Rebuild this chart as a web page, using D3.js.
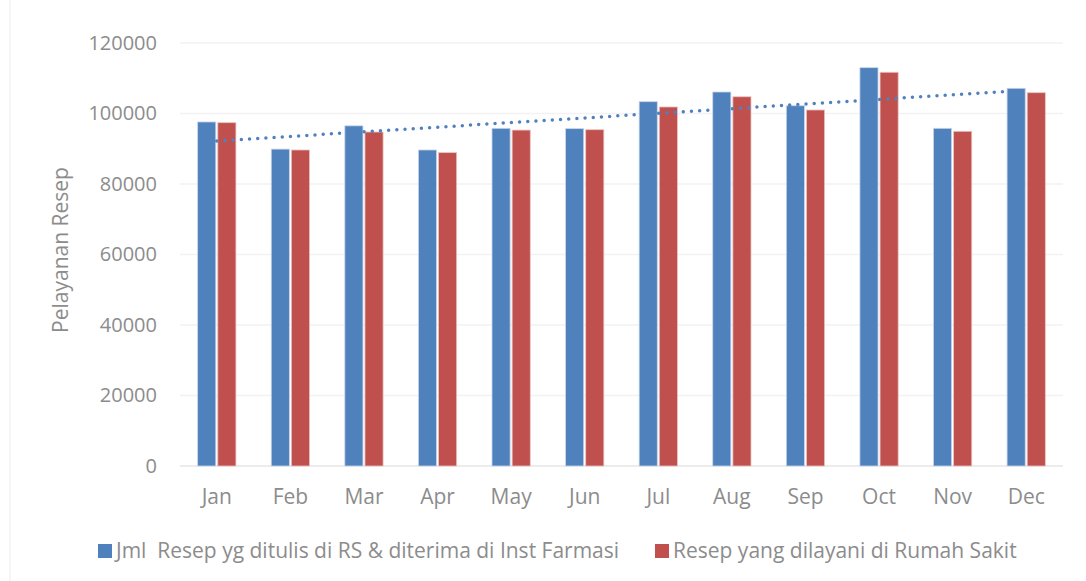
<!DOCTYPE html>
<html><head><meta charset="utf-8">
<script src="https://cdn.jsdelivr.net/npm/d3@7"></script>
<style>
html,body{margin:0;padding:0;background:#fff;}
text{font-family:"Open Sans",sans-serif;fill:#8c8c8c;}
</style></head>
<body><svg id="c" width="1086" height="581"></svg>
<script>
const months = ["Jan","Feb","Mar","Apr","May","Jun","Jul","Aug","Sep","Oct","Nov","Dec"];
const seriesNames = ["Jml  Resep yg ditulis di RS & diterima di Inst Farmasi","Resep yang dilayani di Rumah Sakit"];
const written = [97600, 89900, 96500, 89650, 95800, 95700, 103350, 106100, 102200, 113000, 95800, 107150];
const served  = [97400, 89650, 94750, 88900, 95300, 95400, 101850, 104750, 101000, 111700, 94950, 105900];
const yTicks = [0, 20000, 40000, 60000, 80000, 100000, 120000];
const colors = ["#4F81BD","#C0504D"];

const svg = d3.select("#c");
const pLeft = 180, pRight = 1063, pTop = 43, pBottom = 466;

const x = d3.scaleBand().domain(months).range([pLeft, pRight]).paddingInner(0.48).paddingOuter(0.24);
const xi = d3.scaleBand().domain([0,1]).range([0, x.bandwidth()]).paddingInner(0.1);
const y = d3.scaleLinear().domain([0, 120000]).range([pBottom, pTop]);

// faint outer border
svg.append("line").attr("x1",10).attr("x2",10).attr("y1",0).attr("y2",581).attr("stroke","#f3f3f3").attr("stroke-width",1.5);

// gridlines
svg.append("g").selectAll("line").data(yTicks).join("line")
  .attr("x1", pLeft).attr("x2", pRight)
  .attr("y1", d => y(d)).attr("y2", d => y(d))
  .attr("stroke", (d) => d === 0 ? "#e6e6e6" : "#f2f2f2").attr("stroke-width", 1.5);

// y axis labels
const yAxis = d3.axisLeft(y).tickValues(yTicks).tickSize(0).tickPadding(0).tickFormat(d3.format("d"));
const gy = svg.append("g").attr("transform", `translate(157,0)`).call(yAxis);
gy.select(".domain").remove();
gy.selectAll("text").style("font-size","20px").attr("fill","#8c8c8c").style("font-family","'Open Sans',sans-serif");

// x axis labels
const xAxis = d3.axisBottom(x).tickSize(0).tickPadding(0);
const gx = svg.append("g").attr("transform", `translate(0,489)`).call(xAxis);
gx.select(".domain").remove();
gx.selectAll("text").style("font-size","21px").attr("fill","#8c8c8c").style("font-family","'Open Sans',sans-serif");

// bars
const data = months.map((m,i) => ({m, v:[written[i], served[i]]}));
const groups = svg.append("g").selectAll("g").data(data).join("g")
  .attr("transform", d => `translate(${x(d.m)},0)`);
groups.selectAll("rect").data(d => d.v.map((v,k)=>({v,k}))).join("rect")
  .attr("x", d => xi(d.k)).attr("width", xi.bandwidth())
  .attr("y", d => y(d.v)).attr("height", d => pBottom - y(d.v))
  .attr("fill", d => colors[d.k])
  .attr("stroke", d => d.k === 0 ? "#c9d6ea" : "#e8c4c3").attr("stroke-width", 0.8);

// linear trendline on first series
const n = written.length;
const mx = (n-1)/2, my = d3.mean(written);
let sxy = 0, sxx = 0;
written.forEach((v,i)=>{ sxy += (i-mx)*(v-my); sxx += (i-mx)*(i-mx); });
const slope = sxy/sxx, icpt = my - slope*mx;
const cx = i => x(months[i]) + x.bandwidth()/2;
svg.append("line")
  .attr("x1", cx(0)).attr("y1", y(icpt))
  .attr("x2", cx(n-1)).attr("y2", y(icpt + slope*(n-1)))
  .attr("stroke", "#4F81BD").attr("stroke-width", 3.5)
  .attr("stroke-linecap","round").attr("stroke-dasharray","0,8.2");

// y title
svg.append("text").attr("transform","translate(68,250) rotate(-90)")
  .attr("text-anchor","middle").style("font-size","21px").text("Pelayanan Resep");

// legend
const leg = [{x:98, k:0},{x:655, k:1}];
leg.forEach(l => {
  svg.append("rect").attr("x", l.x).attr("y", 544).attr("width", 14).attr("height", 14).attr("fill", colors[l.k]);
  svg.append("text").attr("x", l.x + 18).attr("y", 551).attr("dy","0.35em")
    .style("font-size","21px").text(seriesNames[l.k]).style("white-space","pre");
});
</script></body></html>
